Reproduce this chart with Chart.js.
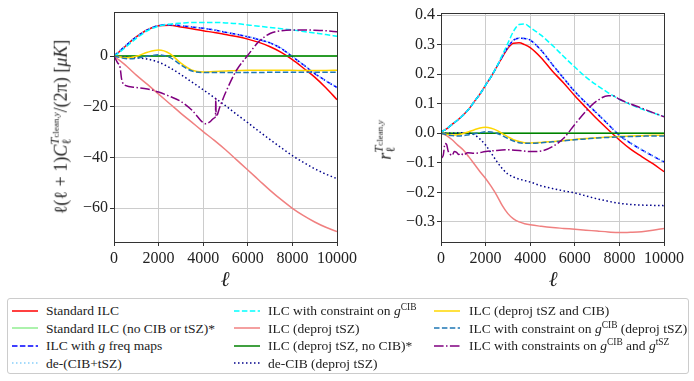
<!DOCTYPE html>
<html>
<head>
<meta charset="utf-8">
<script src="https://cdn.jsdelivr.net/npm/chart.js@4.4.1/dist/chart.umd.min.js"></script>
<style>
body { margin: 0; background: #fff; }
#wrap { position: relative; width: 694px; height: 381px; overflow: hidden; font-family: "Liberation Serif", serif; color: #222; }
canvas { position: absolute; top: 0; }
#cL { left: 0; }
#cR { left: 365px; }
.ytitle { position: absolute; white-space: nowrap; transform: translate(-50%, -50%) rotate(-90deg); font-size: 18px; }
.xtitle { position: absolute; transform: translate(-50%, -50%); font-size: 21px; font-style: italic; }
.ss { display: inline-block; position: relative; font-size: 0.7em; line-height: 1; vertical-align: 0.6em; }
.ss .lo { position: absolute; left: 0; top: 0.95em; }
.ss small { font-size: 0.72em; }
i { font-style: italic; }
#legend { position: absolute; left: 7px; top: 298px; width: 680px; height: 74px; border: 1px solid #cccccc; border-radius: 3px; font-size: 13.5px; }
.item { position: absolute; white-space: nowrap; line-height: 15px; }
.item svg { position: absolute; top: 3.5px; }
.item span { position: absolute; top: 0; }
sup { font-size: 0.7em; vertical-align: 0.5em; line-height: 0; }
</style>
</head>
<body>
<div id="wrap">
  <canvas id="cL" width="370" height="290"></canvas>
  <canvas id="cR" width="329" height="290"></canvas>
  <div class="ytitle" style="left:60px; top:127px;">ℓ(ℓ + 1)<i>C</i><span class="ss"><i>T</i><small>clean,<i>y</i></small><span class="lo">ℓ</span></span>/(2π) [<i>μK</i>]</div>
  <div class="ytitle" style="left:384px; top:140px;"><i>r</i><span class="ss"><i>T</i><small>clean,<i>y</i></small><span class="lo">ℓ</span></span></div>
  <div class="xtitle" style="left:225px; top:279px;">ℓ</div>
  <div class="xtitle" style="left:553px; top:279px;">ℓ</div>
  <div id="legend"></div>
</div>
<script>
// multipoles, left panel
const ell = [0, 250, 500, 750, 1000, 1500, 2000, 2500, 3000, 3500, 4000, 4500, 5000, 5500, 6000, 6500, 7000, 7500, 8000, 8500, 9000, 9500, 10000];

// left panel: l(l+1) C_l^{T_clean, y} / 2pi  [uK]
const clStd = [0, 1.8, 3.8, 5.8, 7.6, 10.4, 12.0, 12.2, 11.5, 10.8, 10.0, 9.3, 8.5, 7.7, 6.7, 5.4, 3.7, 1.5, -1.4, -4.8, -8.3, -12.5, -17.2];
const clStdClean = [0, 0, 0, 0, 0, 0, 0, 0, 0, 0, 0, 0, 0, 0, 0, 0, 0, 0, 0, 0, 0, 0, 0];
const clGFreq = [0, 2.0, 3.9, 5.8, 7.5, 10.3, 12.0, 12.4, 12.0, 11.5, 11.0, 10.3, 9.4, 8.6, 7.6, 6.5, 5.2, 3.0, -0.2, -3.5, -6.9, -9.8, -12.4];
const clDeCibTsz = [0, 2.1, 4.0, 5.9, 7.6, 10.4, 12.1, 12.5, 12.1, 11.6, 11.0, 10.3, 9.5, 8.6, 7.7, 6.6, 5.2, 3.1, -0.1, -3.4, -6.8, -9.7, -12.3];
const clCibCon = [0, 1.5, 3.3, 5.2, 7.0, 10.0, 11.8, 12.6, 13.0, 13.3, 13.3, 13.3, 13.1, 12.8, 12.3, 11.8, 11.3, 10.8, 10.3, 9.7, 9.1, 8.5, 7.8];
const clDeprojTsz = [0, -1.7, -3.5, -5.5, -7.5, -11.2, -15.0, -18.8, -22.6, -26.2, -29.8, -33.3, -37.0, -41.0, -45.0, -49.0, -53.0, -56.7, -60.1, -63.0, -65.5, -67.6, -69.3];
const clDeprojTszClean = [0, 0, 0, 0, 0, 0, 0, 0, 0, 0, 0, 0, 0, 0, 0, 0, 0, 0, 0, 0, 0, 0, 0];
const clDeCib = [0, -0.2, -0.4, -0.5, -0.6, -1.2, -2.4, -4.6, -7.3, -10.3, -13.3, -16.4, -19.6, -23.0, -26.3, -29.7, -33.0, -36.2, -39.3, -42.0, -44.5, -46.6, -48.4];
const clDeprojBoth = [0, -0.3, -0.7, -0.6, -0.1, 1.5, 2.4, 1.0, -2.8, -5.6, -6.3, -6.1, -5.9, -5.7, -5.6, -5.6, -5.6, -5.6, -5.6, -5.7, -5.7, -5.7, -5.6];
const clCibConDeproj = [0, -0.5, -1.0, -1.1, -0.8, -0.1, 0.5, -0.5, -3.5, -5.9, -6.5, -6.5, -6.5, -6.5, -6.5, -6.5, -6.4, -6.4, -6.4, -6.4, -6.4, -6.4, -6.4];
const ellPurpleL = [0, 150, 280, 330, 380, 500, 1000, 1500, 2000, 2500, 3000, 3500, 4000, 4100, 4300, 4500, 4550, 4565, 4580, 4750, 5000, 5500, 6000, 6500, 7000, 7500, 8000, 8500, 9000, 9500, 10000];
const clBothCon = [0, -2.5, -4.8, -8.5, -10.3, -11.6, -12.4, -13.0, -14.2, -15.9, -17.9, -21.4, -26.3, -26.7, -26.0, -24.4, -23.9, -16.7, -23.9, -20.0, -14.5, -5.5, 0.3, 5.8, 8.9, 10.0, 10.3, 10.3, 10.2, 10.0, 9.6];

// multipoles, right panel
const ellR = [0, 250, 500, 750, 1000, 1250, 1500, 1750, 2000, 2250, 2500, 2750, 3000, 3250, 3500, 3750, 4000, 4500, 5000, 5500, 6000, 6500, 7000, 7500, 8000, 8500, 9000, 9500, 10000];

// right panel: correlation coefficient r_l
const rStd = [0.005, 0.015, 0.03, 0.045, 0.062, 0.082, 0.108, 0.133, 0.163, 0.192, 0.225, 0.258, 0.288, 0.305, 0.306, 0.3, 0.29, 0.255, 0.21, 0.17, 0.127, 0.087, 0.048, 0.012, -0.023, -0.054, -0.079, -0.103, -0.13];
const rStdClean = [0, 0, 0, 0, 0, 0, 0, 0, 0, 0, 0, 0, 0, 0, 0, 0, 0, 0, 0, 0, 0, 0, 0, 0, 0, 0, 0, 0, 0];
const rGFreq = [0.005, 0.015, 0.03, 0.045, 0.062, 0.082, 0.108, 0.133, 0.163, 0.192, 0.225, 0.26, 0.292, 0.315, 0.322, 0.321, 0.315, 0.28, 0.232, 0.186, 0.141, 0.103, 0.067, 0.03, -0.007, -0.033, -0.056, -0.077, -0.097];
const rDeCibTsz = [0.005, 0.016, 0.031, 0.046, 0.063, 0.083, 0.109, 0.134, 0.164, 0.193, 0.226, 0.261, 0.293, 0.316, 0.323, 0.322, 0.316, 0.281, 0.233, 0.187, 0.142, 0.104, 0.068, 0.031, -0.006, -0.032, -0.055, -0.076, -0.096];
const rCibCon = [0.005, 0.015, 0.03, 0.045, 0.062, 0.082, 0.108, 0.133, 0.163, 0.192, 0.226, 0.265, 0.305, 0.345, 0.368, 0.37, 0.358, 0.331, 0.297, 0.26, 0.224, 0.19, 0.162, 0.137, 0.115, 0.097, 0.082, 0.069, 0.057];
const rDeprojTsz = [0, -0.008, -0.022, -0.04, -0.057, -0.08, -0.105, -0.13, -0.153, -0.18, -0.21, -0.245, -0.272, -0.29, -0.3, -0.306, -0.31, -0.315, -0.319, -0.322, -0.325, -0.328, -0.331, -0.334, -0.336, -0.335, -0.333, -0.328, -0.322];
const rDeprojTszClean = [0, 0, 0, 0, 0, 0, 0, 0, 0, 0, 0, 0, 0, 0, 0, 0, 0, 0, 0, 0, 0, 0, 0, 0, 0, 0, 0, 0, 0];
const rDeCib = [0, 0, 0, 0.001, 0.002, 0.001, -0.005, -0.02, -0.04, -0.067, -0.095, -0.12, -0.138, -0.148, -0.155, -0.16, -0.165, -0.178, -0.187, -0.195, -0.202, -0.212, -0.222, -0.23, -0.237, -0.241, -0.243, -0.244, -0.245];
const rDeprojBoth = [0, -0.003, -0.006, -0.005, -0.001, 0.005, 0.012, 0.018, 0.02, 0.017, 0.01, -0.001, -0.012, -0.022, -0.028, -0.032, -0.033, -0.031, -0.028, -0.025, -0.021, -0.018, -0.015, -0.013, -0.011, -0.009, -0.008, -0.007, -0.007];
const rCibConDeproj = [0, -0.005, -0.008, -0.009, -0.008, -0.005, -0.002, 0.002, 0.005, 0.004, 0, -0.008, -0.018, -0.026, -0.032, -0.034, -0.034, -0.032, -0.029, -0.026, -0.022, -0.019, -0.016, -0.014, -0.012, -0.011, -0.01, -0.009, -0.009];
const ellPurpleR = [0, 100, 180, 250, 320, 400, 500, 600, 700, 800, 900, 1000, 1200, 1500, 2000, 2500, 3000, 3500, 4000, 4500, 5000, 5500, 6000, 6500, 7000, 7500, 7700, 8000, 8500, 9000, 9500, 10000];
const rBothCon = [-0.085, -0.075, -0.035, -0.038, -0.06, -0.07, -0.075, -0.062, -0.065, -0.072, -0.068, -0.074, -0.066, -0.068, -0.062, -0.058, -0.056, -0.058, -0.062, -0.06, -0.045, -0.017, 0.03, 0.075, 0.11, 0.127, 0.127, 0.115, 0.099, 0.085, 0.07, 0.056];

// ticks
const xTicks = [0, 2000, 4000, 6000, 8000, 10000];
const yTicksL = [-60, -40, -20, 0];
const yTicksR = [-0.3, -0.2, -0.1, 0.0, 0.1, 0.2, 0.3, 0.4];

// line styles, in plotting order
const DASH = [5.5, 2.4], DOT = [1.5, 2.5], DASHDOT = [9.6, 2.4, 1.5, 2.4];
const series = [
  { label: 'Standard ILC', html: 'Standard ILC', color: '#ff0000', dash: [] },
  { label: 'Standard ILC (no CIB or tSZ)*', html: 'Standard ILC (no CIB or tSZ)*', color: '#90ee90', dash: [] },
  { label: 'ILC with g freq maps', html: 'ILC with <i>g</i> freq maps', color: '#0000ff', dash: DASH },
  { label: 'de-(CIB+tSZ)', html: 'de-(CIB+tSZ)', color: '#87cefa', dash: DOT },
  { label: 'ILC with constraint on g^CIB', html: 'ILC with constraint on <i>g</i><sup>CIB</sup>', color: '#00ffff', dash: DASH },
  { label: 'ILC (deproj tSZ)', html: 'ILC (deproj tSZ)', color: '#f08080', dash: [] },
  { label: 'ILC (deproj tSZ, no CIB)*', html: 'ILC (deproj tSZ, no CIB)*', color: '#008000', dash: [] },
  { label: 'de-CIB (deproj tSZ)', html: 'de-CIB (deproj tSZ)', color: '#00008b', dash: DOT },
  { label: 'ILC (deproj tSZ and CIB)', html: 'ILC (deproj tSZ and CIB)', color: '#ffd700', dash: [] },
  { label: 'ILC with constraint on g^CIB (deproj tSZ)', html: 'ILC with constraint on <i>g</i><sup>CIB</sup> (deproj tSZ)', color: '#1f77b4', dash: DASH },
  { label: 'ILC with constraints on g^CIB and g^tSZ', html: 'ILC with constraints on <i>g</i><sup>CIB</sup> and <i>g</i><sup>tSZ</sup>', color: '#800080', dash: DASHDOT }
];

const leftY = [clStd, clStdClean, clGFreq, clDeCibTsz, clCibCon, clDeprojTsz, clDeprojTszClean, clDeCib, clDeprojBoth, clCibConDeproj, clBothCon];
const rightY = [rStd, rStdClean, rGFreq, rDeCibTsz, rCibCon, rDeprojTsz, rDeprojTszClean, rDeCib, rDeprojBoth, rCibConDeproj, rBothCon];

function points(xs, ys) {
  return xs.map((x, i) => ({ x: x, y: ys[i] }));
}

function datasets(xs, ys, purpleEll) {
  return series.map((s, i) => ({
    label: s.label,
    data: points(i === series.length - 1 ? purpleEll : xs, ys[i]),
    borderColor: s.color,
    borderWidth: 1.5,
    borderDash: s.dash,
    pointRadius: 0,
    cubicInterpolationMode: 'monotone',
    fill: false,
    order: series.length - i
  }));
}

const minus = v => (v < 0 ? '\u2212' : '');

const boxPlugin = {
  id: 'box',
  afterDatasetsDraw(chart) {
    const a = chart.chartArea, ctx = chart.ctx;
    ctx.save();
    ctx.strokeStyle = '#333333';
    ctx.lineWidth = 1;
    ctx.strokeRect(Math.round(a.left) + 0.5, Math.round(a.top) + 0.5, Math.round(a.right - a.left), Math.round(a.bottom - a.top));
    ctx.restore();
  }
};

const tickFont = { family: '"Liberation Serif", serif', size: 16 };

function makeChart(id, xs, ys, purpleEll, yMin, yMax, yTicks, fmt, yWidth, pad) {
  return new Chart(document.getElementById(id), {
    type: 'line',
    data: { datasets: datasets(xs, ys, purpleEll) },
    options: {
      responsive: false,
      animation: false,
      devicePixelRatio: 1,
      layout: { padding: pad },
      plugins: { legend: { display: false }, tooltip: { enabled: false } },
      scales: {
        x: {
          type: 'linear', min: 0, max: 10000,
          afterBuildTicks: s => { s.ticks = xTicks.map(v => ({ value: v })); },
          afterFit: s => { s.height = 48; },
          ticks: { font: tickFont, color: '#222', padding: 3, maxRotation: 0, autoSkip: false, callback: v => String(v) },
          grid: { color: '#cccccc', lineWidth: 1, tickLength: 4, tickColor: '#333333' },
          border: { display: false }
        },
        y: {
          type: 'linear', min: yMin, max: yMax,
          afterBuildTicks: s => { s.ticks = yTicks.map(v => ({ value: v })); },
          afterFit: s => { s.width = yWidth; },
          ticks: { font: tickFont, color: '#222', padding: 2, autoSkip: false, callback: fmt },
          grid: { color: '#cccccc', lineWidth: 1, tickLength: 4, tickColor: '#333333' },
          border: { display: false }
        }
      }
    },
    plugins: [boxPlugin]
  });
}

makeChart('cL', ell, leftY, ellPurpleL, -73.4, 17.4, yTicksL,
  v => minus(v) + Math.abs(v), 114, { top: 12, right: 33, left: 0, bottom: 0 });
makeChart('cR', ellR, rightY, ellPurpleR, -0.368, 0.407, yTicksR,
  v => minus(v) + Math.abs(v).toFixed(1), 76, { top: 13, right: 30, left: 0, bottom: 0 });

// legend, three columns below both panels
const colX = [4, 226, 426];
const colText = [38, 260, 461];
const rowY = [4, 21.5, 39, 56.5];
const perCol = [4, 4, 3];
const legend = document.getElementById('legend');
let k = 0;
perCol.forEach((n, c) => {
  for (let r = 0; r < n; r++, k++) {
    const s = series[k];
    const it = document.createElement('div');
    it.className = 'item';
    it.style.left = colX[c] + 'px';
    it.style.top = rowY[r] + 'px';
    it.innerHTML = '<svg width="26" height="8"><line x1="0" y1="4" x2="26" y2="4" stroke="' + s.color +
      '" stroke-width="1.5" stroke-dasharray="' + (s.dash.length ? s.dash.join(',') : 'none') + '"/></svg>' +
      '<span style="left:' + (colText[c] - colX[c]) + 'px">' + s.html + '</span>';
    legend.appendChild(it);
  }
});
</script>
</body>
</html>
